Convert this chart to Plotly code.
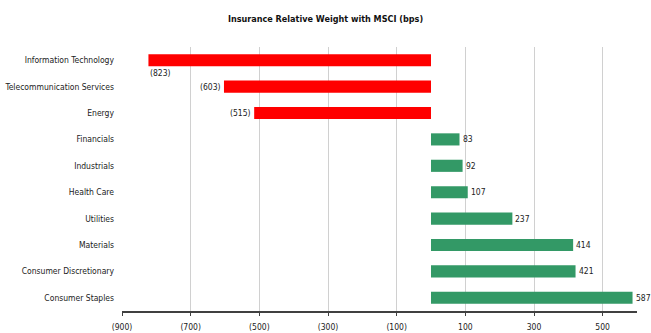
import plotly.graph_objects as go

categories = ["Information Technology", "Telecommunication Services", "Energy",
              "Financials", "Industrials", "Health Care", "Utilities",
              "Materials", "Consumer Discretionary", "Consumer Staples"]
values = [-823, -603, -515, 83, 92, 107, 237, 414, 421, 587]
tick_vals = [-900, -700, -500, -300, -100, 100, 300, 500]
tick_text = ["(900)", "(700)", "(500)", "(300)", "(100)", "100", "300", "500"]

FONT = "DejaVu Sans Condensed, sans-serif"
RED = "#FF0000"
GREEN = "#339966"
FS = 8.5

def fmt(v):
    return f"({abs(v)})" if v < 0 else f"{v}"

colors = [RED if v < 0 else GREEN for v in values]
n = len(categories)

fig = go.Figure()
fig.add_trace(go.Bar(
    x=values, y=categories, orientation="h",
    marker=dict(color=colors, line=dict(width=0)),
    width=0.46, hoverinfo="x+y", showlegend=False,
))

annotations = []
for i, (c, v) in enumerate(zip(categories, values)):
    if v < 0 and i == 0:
        annotations.append(dict(x=v, y=c, text=fmt(v), showarrow=False,
                                xanchor="left", yanchor="middle", xshift=1, yshift=-13,
                                borderpad=0))
    elif v < 0:
        annotations.append(dict(x=v, y=c, text=fmt(v), showarrow=False,
                                xanchor="right", yanchor="middle", xshift=-2,
                                borderpad=0))
    else:
        annotations.append(dict(x=v, y=c, text=fmt(v), showarrow=False,
                                xanchor="left", yanchor="middle", xshift=2,
                                borderpad=0))

fig.update_layout(
    width=651, height=333,
    margin=dict(l=122, r=14, t=47, b=22),
    paper_bgcolor="white", plot_bgcolor="white",
    font=dict(family=FONT, size=FS, color="#222222"),
    title=dict(text="<b>Insurance Relative Weight with MSCI (bps)</b>",
               x=0.5, xref="container", xanchor="center",
               y=1 - 19 / 333, yref="container", yanchor="middle",
               font=dict(family=FONT, size=9, color="#111111")),
    annotations=annotations,
    xaxis=dict(range=[-900, 600], tickvals=tick_vals, ticktext=tick_text,
               showgrid=True, gridcolor="#d0d0d0", gridwidth=1,
               zeroline=False, showline=True, linecolor="#404040", linewidth=1.5,
               ticks="outside", ticklen=3, tickcolor="#404040",
               ticklabelstandoff=4, automargin=False,
               tickfont=dict(size=FS)),
    yaxis=dict(categoryorder="array", categoryarray=categories,
               range=[n - 0.5, -0.5], autorange=False,
               showgrid=False, zeroline=False,
               showline=False, ticks="", ticklabelstandoff=7,
               automargin=False, tickfont=dict(size=FS)),
    yaxis2=dict(overlaying="y", anchor="free", position=0.6, side="left",
                range=[n - 0.5, -0.5], autorange=False,
                showgrid=False, zeroline=False,
                showline=True, linecolor="#000000", linewidth=1.5,
                ticks="outside", ticklen=4, tickcolor="#000000",
                tickvals=[i - 0.5 for i in range(n)],
                showticklabels=False, automargin=False),
)

fig.write_html("out.html")
